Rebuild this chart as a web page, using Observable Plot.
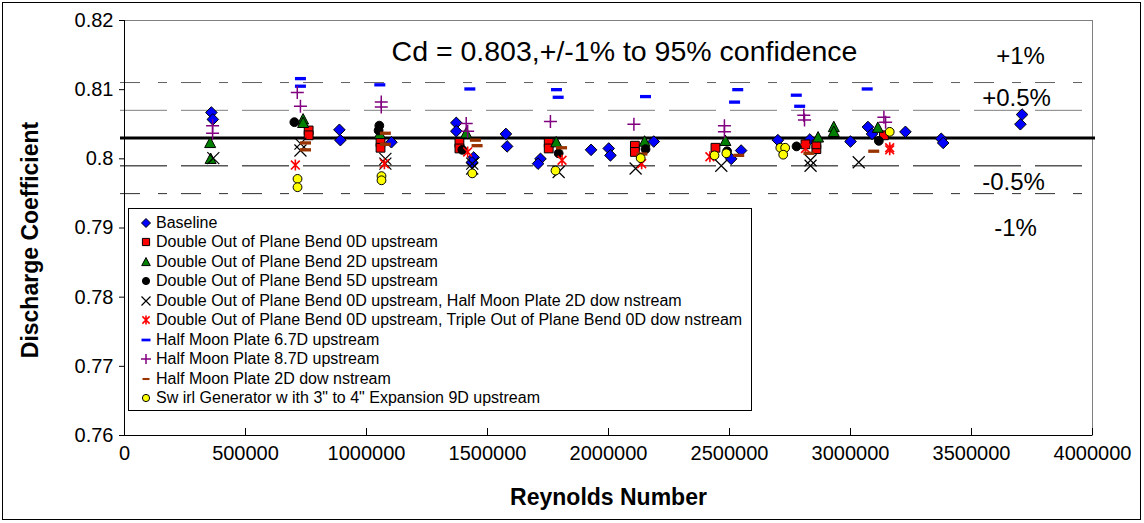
<!DOCTYPE html>
<html><head><meta charset="utf-8">
<script src="https://cdn.jsdelivr.net/npm/d3@7"></script>
<script src="https://cdn.jsdelivr.net/npm/@observablehq/plot@0.6"></script>
<style>
body{margin:0;background:#fff;}
#wrap{position:relative;width:1144px;height:523px;font-family:"Liberation Sans",Arial,sans-serif;}
#border{position:absolute;left:2px;top:2px;width:1137px;height:516px;border:1px solid #000;pointer-events:none;}
#legend{position:absolute;left:128px;top:208px;width:622px;height:201px;border:1px solid #000;background:#fff;}
.row{position:absolute;left:0;height:20px;display:flex;align-items:center;white-space:nowrap;font-family:"Liberation Sans Narrow","Liberation Sans",Arial,sans-serif;font-size:16px;color:#000;}
.row svg{margin-left:10px;margin-right:3px;}
</style></head>
<body>
<div id="wrap"><div id="chart"></div><div id="legend"></div><div id="border"></div></div>
<script>
// ---- data ----
const seriesNames = [
  "Baseline",
  "Double Out of Plane Bend 0D upstream",
  "Double Out of Plane Bend 2D upstream",
  "Double Out of Plane Bend 5D upstream",
  "Double Out of Plane Bend 0D upstream, Half Moon Plate 2D dow nstream",
  "Double Out of Plane Bend 0D upstream, Triple Out of Plane Bend 0D dow nstream",
  "Half Moon Plate 6.7D upstream",
  "Half Moon Plate 8.7D upstream",
  "Half Moon Plate 2D dow nstream",
  "Sw irl Generator w ith 3\" to 4\" Expansion 9D upstream"
];
const baselineRe = [359000,365000,888000,892000,1103000,1371000,1371000,1443000,1436000,1576000,1581000,1719000,1709000,1928000,2001000,2008000,2187000,2548000,2507000,2700000,2832000,3000000,3072000,3089000,3227000,3375000,3383000,3702000,3709000];
const baselineCd = [0.8067,0.8057,0.8042,0.8027,0.8024,0.8052,0.8040,0.8002,0.7995,0.8036,0.8018,0.8000,0.7993,0.8013,0.8015,0.8005,0.8025,0.8012,0.8000,0.8027,0.8028,0.8025,0.8046,0.8036,0.8039,0.8029,0.8023,0.8050,0.8064];
const bend0Re = [761000,761000,1058000,1058000,1384000,1384000,1753000,1753000,2109000,2109000,2442000,2814000,2859000,2859000,3138000];
const bend0Cd = [0.8041,0.8034,0.8024,0.8016,0.8023,0.8015,0.8023,0.8015,0.8019,0.8010,0.8016,0.8021,0.8014,0.8021,0.8034];
const bend2Re = [354000,356000,738000,738000,1055000,1412000,1784000,2149000,2483000,2866000,2931000,2931000,3113000];
const bend2Cd = [0.8023,0.8000,0.8057,0.8052,0.8036,0.8037,0.8024,0.8025,0.8026,0.8031,0.8046,0.8039,0.8045];
const bend5Re = [702000,1053000,1050000,1396000,1794000,2153000,2490000,2777000,3117000];
const bend5Cd = [0.8053,0.8048,0.8041,0.8013,0.8008,0.8014,0.8011,0.8018,0.8026];
const bendHmRe = [367000,727000,727000,1078000,1078000,1437000,1437000,1794000,2112000,2466000,2835000,2835000,3034000];
const bendHmCd = [0.8001,0.8022,0.8012,0.8000,0.7993,0.7993,0.7986,0.7981,0.7986,0.7990,0.7998,0.7990,0.7995];
const bendTripleRe = [706000,1074000,1418000,1808000,2137000,2419000,2814000,3162000,3162000];
const bendTripleCd = [0.7991,0.7993,0.8010,0.7998,0.7993,0.8003,0.8015,0.8013,0.8016];
const hm67Re = [727000,727000,1055000,1427000,1785000,1792000,2153000,2534000,2521000,2776000,2790000,3069000];
const hm67Cd = [0.8116,0.8105,0.8107,0.8101,0.8100,0.8089,0.8090,0.8100,0.8082,0.8092,0.8076,0.8101];
const hm87Re = [364000,364000,714000,727000,1061000,1061000,1412000,1418000,1760000,2105000,2479000,2479000,2807000,2810000,3138000,3145000];
const hm87Cd = [0.8048,0.8037,0.8096,0.8076,0.8082,0.8075,0.8051,0.8040,0.8054,0.8050,0.8048,0.8039,0.8063,0.8056,0.8060,0.8053];
const hm2dRe = [748000,748000,1078000,1078000,1450000,1457000,1806000,2138000,2538000,2828000,3096000];
const hm2dCd = [0.8023,0.8013,0.8037,0.8021,0.8027,0.8019,0.8016,0.8007,0.8005,0.8008,0.8011];
const swirlRe = [715000,715000,1062000,1062000,1437000,1781000,2133000,2438000,2487000,2710000,2730000,2722000,3162000];
const swirlCd = [0.7971,0.7959,0.7975,0.7969,0.7979,0.7983,0.8001,0.8005,0.8008,0.8016,0.8016,0.8006,0.8039];
const cdNominal = 0.803;
const bandPercents = [1, 0.5, -0.5, -1];
const bandLabels = ["+1%", "+0.5%", "-0.5%", "-1%"];
const xTicks = [0,500000,1000000,1500000,2000000,2500000,3000000,3500000,4000000];
const yTicks = [0.76,0.77,0.78,0.79,0.80,0.81,0.82];
const titleText = "Cd = 0.803,+/-1% to 95% confidence";
const xLabel = "Reynolds Number";
const yLabel = "Discharge Coefficient";

// ---- symbols ----
function sym(fn){ return {draw(ctx, size){ const r = Math.sqrt(size/Math.PI); fn(ctx, r); }}; }
const symDiamond = sym((c,r)=>{c.moveTo(0,-r);c.lineTo(r,0);c.lineTo(0,r);c.lineTo(-r,0);c.closePath();});
const symSquare = sym((c,r)=>{c.rect(-r,-r,2*r,2*r);});
const symTriangle = sym((c,r)=>{c.moveTo(0,-r);c.lineTo(r*0.95,r*0.8);c.lineTo(-r*0.95,r*0.8);c.closePath();});
const symCircle = sym((c,r)=>{c.moveTo(r,0);c.arc(0,0,r,0,2*Math.PI);});
const symTimes = sym((c,r)=>{c.moveTo(-r,-r);c.lineTo(r,r);c.moveTo(r,-r);c.lineTo(-r,r);});
const symStar = sym((c,r)=>{const a=r*0.8;c.moveTo(-a,-a);c.lineTo(a,a);c.moveTo(a,-a);c.lineTo(-a,a);c.moveTo(0,-r);c.lineTo(0,r);});
const symPlus = sym((c,r)=>{c.moveTo(-r,0);c.lineTo(r,0);c.moveTo(0,-r);c.lineTo(0,r);});
const symDash = sym((c,r)=>{c.rect(-r,-r*0.3,2*r,r*0.6);});

const styles = [
  {symbol: symDiamond, fill: "#0000ff", stroke: "#000", sw: 1, r: 5.8, lr: 4.5},
  {symbol: symSquare, fill: "#ff0000", stroke: "#000", sw: 1, r: 4.4, lr: 3.6},
  {symbol: symTriangle, fill: "#008000", stroke: "#000", sw: 1, r: 5.8, lr: 4.5},
  {symbol: symCircle, fill: "#000", stroke: "#000", sw: 1, r: 4.4, lr: 3.6},
  {symbol: symTimes, fill: "none", stroke: "#000", sw: 1.2, r: 6, lr: 4.5},
  {symbol: symStar, fill: "none", stroke: "#ff0000", sw: 1.6, r: 5.5, lr: 4.5},
  {symbol: symDash, fill: "#0000ff", stroke: "none", sw: 0, r: 5.5, lr: 4.5},
  {symbol: symPlus, fill: "none", stroke: "#800080", sw: 1.5, r: 6.5, lr: 5},
  {symbol: symDash, fill: "#993300", stroke: "none", sw: 0, r: 5.5, lr: 3.5},
  {symbol: symCircle, fill: "#ffff00", stroke: "#000", sw: 1, r: 4.4, lr: 3.6}
];
const seriesRe = [baselineRe,bend0Re,bend2Re,bend5Re,bendHmRe,bendTripleRe,hm67Re,hm87Re,hm2dRe,swirlRe];
const seriesCd = [baselineCd,bend0Cd,bend2Cd,bend5Cd,bendHmCd,bendTripleCd,hm67Cd,hm87Cd,hm2dCd,swirlCd];

const dotMarks = seriesNames.map((name, i) => {
  const rows = seriesRe[i].map((re, j) => ({re, cd: seriesCd[i][j]}));
  const s = styles[i];
  return Plot.dot(rows, {x: "re", y: "cd", symbol: s.symbol, r: s.r, fill: s.fill, stroke: s.stroke, strokeWidth: s.sw});
});

const bands = bandPercents.map((p, i) => ({p, v: cdNominal*(1+p/100), label: bandLabels[i]}));
const bandStyle = {"1": {stroke:"#606060", dash:"20,18,9,14"}, "0.5": {stroke:"#808080", dash:"47,14"}, "-0.5": {stroke:"#000", dash:"47,14"}, "-1": {stroke:"#303030", dash:"20,18,9,14"}};
const labelOffsets = {"1": {dx:-72, dy:-26}, "0.5": {dx:-76, dy:-12}, "-0.5": {dx:-79, dy:16}, "-1": {dx:-77, dy:35}};

const chart = Plot.plot({
  width: 1144, height: 523,
  marginLeft: 124, marginRight: 52, marginTop: 20, marginBottom: 88,
  x: {domain: [0, 4000000]},
  y: {domain: [0.76, 0.82]},
  style: {fontFamily: "'Liberation Sans', Arial, sans-serif", fontSize: "20px", color: "#000", background: "transparent", overflow: "visible"},
  marks: [
    Plot.frame({stroke: "#808080"}),
    ...bands.map(b => Plot.ruleY([b.v], {stroke: bandStyle[b.p].stroke, strokeDasharray: bandStyle[b.p].dash, strokeWidth: 1, insetLeft: -4, insetRight: -3})),
    Plot.ruleY([cdNominal], {stroke: "#000", strokeWidth: 3, insetLeft: -4, insetRight: -3}),
    Plot.ruleX([0], {stroke: "#000"}),
    Plot.ruleY([0.76], {stroke: "#000"}),
    Plot.ruleX(xTicks, {x: d => d, insetTop: 408, stroke: "#000"}),
    Plot.axisY({ticks: yTicks, tickSize: 5, tickPadding: 6, tickFormat: d => String(+d.toFixed(2)), label: null, fontSize: 20}),
    Plot.axisX({ticks: xTicks, tickSize: 0, tickPadding: 10, tickFormat: d => String(d), label: null, fontSize: 20}),
    ...dotMarks,
    Plot.text([titleText], {frameAnchor: "top", lineAnchor: "middle", textAnchor: "middle", dx: 16, dy: 31, fontSize: 28.5}),
    ...bands.map(b => Plot.text([b], {frameAnchor: "right", y: "v", text: "label", dx: labelOffsets[b.p].dx, dy: labelOffsets[b.p].dy, textAnchor: "middle", lineAnchor: "middle", fontSize: 24})),
    Plot.text([xLabel], {frameAnchor: "bottom", lineAnchor: "middle", textAnchor: "middle", dy: 62, fontSize: 23, fontWeight: "bold"}),
    Plot.text([yLabel], {frameAnchor: "left", lineAnchor: "middle", textAnchor: "middle", dx: -94, dy: 12, rotate: -90, fontSize: 23, fontWeight: "bold"})
  ]
});
document.getElementById("chart").appendChild(chart);

// ---- legend ----
const legend = document.getElementById("legend");
seriesNames.forEach((name, i) => {
  const s = styles[i];
  const row = document.createElement("div");
  row.className = "row";
  row.style.top = (3.5 + i*19.55) + "px";
  const svg = d3.create("svg").attr("width", 14).attr("height", 14);
  svg.append("path")
    .attr("transform", "translate(7,7)")
    .attr("d", d3.symbol(s.symbol, Math.PI*s.lr*s.lr)())
    .attr("fill", s.fill).attr("stroke", s.stroke).attr("stroke-width", s.sw);
  row.appendChild(svg.node());
  const span = document.createElement("span");
  span.textContent = name;
  row.appendChild(span);
  legend.appendChild(row);
});
</script>
</body></html>
